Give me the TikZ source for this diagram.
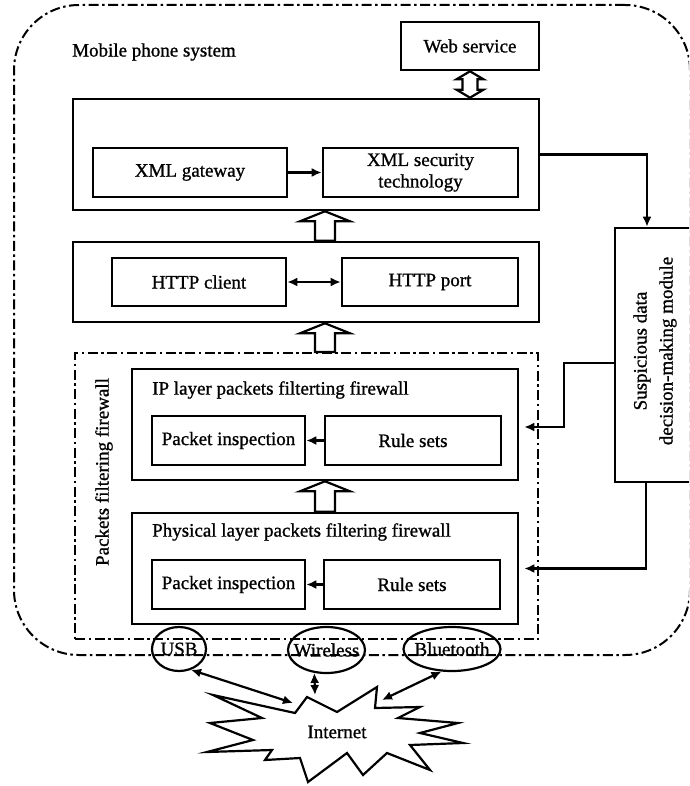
\documentclass[tikz,border=0pt]{standalone}
\usepackage{fontspec}
\setmainfont[FakeBold=1.0]{Liberation Serif}
\usetikzlibrary{arrows.meta,shapes.geometric,calc}
\newcommand\hollowup[2]{%
  \draw[hollow] let \p1=(#1), \p2=(#2) in
    (\x1-10pt,\y1) -- (\x1-10pt,\y2-10pt) -- (\x1-25pt,\y2-10pt) -- (\x1,\y2)
    -- (\x1+25pt,\y2-10pt) -- (\x1+10pt,\y2-10pt) -- (\x1+10pt,\y1) -- cycle;}
\newcommand\hollowboth[2]{%
  \draw[hollow] let \p1=(#1), \p2=(#2) in
    (\x1-7.5pt,\y1+8pt) -- (\x1-13.5pt,\y1+8pt) -- (\x1,\y1) -- (\x1+13.5pt,\y1+8pt)
    -- (\x1+7.5pt,\y1+8pt) -- (\x1+7.5pt,\y2-8pt) -- (\x1+13.5pt,\y2-8pt) -- (\x1,\y2)
    -- (\x1-13.5pt,\y2-8pt) -- (\x1-7.5pt,\y2-8pt) -- cycle;}
\begin{document}
\begin{tikzpicture}[x=1pt,y=-1pt,
  every node/.style={font=\fontsize{19}{23}\selectfont, inner sep=0pt},
  box/.style={draw, line width=2.6pt, rectangle},
  dd/.style={line width=2pt, dash pattern=on 10pt off 3.5pt on 2.5pt off 3.5pt},
  arr/.style={line width=2.2pt, -{Latex[length=10pt,width=9pt]}},
  darr/.style={line width=2.2pt, {Latex[length=10pt,width=9pt]}-{Latex[length=10pt,width=9pt]}},
  hollow/.style={draw, line width=2.2pt, fill=white, line join=miter},
  oval/.style={draw, ellipse, line width=2.2pt, minimum height=45pt}
]
\useasboundingbox (0,0) rectangle (689,786);
\clip (0,0) rectangle (689,786);

% outer mobile phone system
\node[draw, dd, rounded corners=65pt, minimum width=676pt, minimum height=650pt] (phone) at (352,330) {};
\node[anchor=west] (phonelabel) at (72,52) {Mobile phone system};

% web service
\node[box, minimum width=138pt, minimum height=48pt] (web) at (470,46) {Web service};

% XML layer
\node[box, minimum width=466pt, minimum height=111pt] (xml) at (306,154.5) {};
\node[box, minimum width=194pt, minimum height=49pt] (gw) at (190,172.5) {XML gateway};
\node[box, minimum width=195pt, minimum height=49pt, align=center,
      font=\fontsize{19}{21.5}\selectfont] (sec) at (420.5,172.5) {XML security\\technology};

% HTTP layer
\node[box, minimum width=466pt, minimum height=80pt] (http) at (306,282) {};
\node[box, minimum width=174pt, minimum height=48pt] (client) at (199,282) {HTTP client};
\node[box, minimum width=176pt, minimum height=48pt] (port) at (430,282) {\raisebox{2pt}{HTTP port}};

% firewall
\node[draw, dd, minimum width=463pt, minimum height=286pt] (fw) at (306.5,496) {};
\node[rotate=90] (fwlabel) at (104,472) {Packets filtering firewall};

\node[box, minimum width=386pt, minimum height=111pt] (ip) at (325,424.5) {};
\node[anchor=west] (iptitle) at (152,390) {IP layer packets filterting firewall};
\node[box, minimum width=153pt, minimum height=49pt] (ippi) at (228.5,440.5) {Packet inspection};
\node[box, minimum width=176pt, minimum height=49pt] (iprs) at (413,440.5) {Rule sets};

\node[box, minimum width=386pt, minimum height=111pt] (ph) at (325,568.5) {};
\node[anchor=west] (phtitle) at (152,532) {Physical layer packets filtering firewall};
\node[box, minimum width=153pt, minimum height=49pt] (phpi) at (228.5,584.5) {Packet inspection};
\node[box, minimum width=176pt, minimum height=49pt] (phrs) at (412,584.5) {Rule sets};

% suspicious data module
\node[box, minimum width=80pt, minimum height=254pt] (susp) at (655,355) {};
\node[rotate=90, align=center, font=\fontsize{19}{26}\selectfont] (susplabel) at (655,351)
  {Suspicious data\\decision-making module};

% interfaces
\node[oval, minimum width=54pt, minimum height=44pt] (usb) at (179,649) {};
\node (usblabel) at (usb) {USB};
\node[oval, minimum width=77pt, minimum height=46pt] (wl) at (326.5,650) {};
\node (wllabel) at (wl) {Wireless};
\node[oval, minimum width=97pt, minimum height=44pt] (bt) at (452,649) {};
\node (btlabel) at (bt) {Bluetooth};

% Internet star
\draw[line width=2.2pt, fill=white, line join=miter]
  (213,695) -- (295,713) -- (307,697) -- (337,712) -- (377,687) -- (375,708)
  -- (420,707) -- (398,718) -- (458,723) -- (420,733) -- (463,743) -- (410,745)
  -- (430,770) -- (387,753) -- (363,775) -- (347,753) -- (308,782) -- (300,758)
  -- (265,760) -- (272,750) -- (207,752) -- (253,740) -- (210,723) -- (262,718) -- cycle;
\node (inet) at (337,732) {Internet};
\coordinate (tipU) at (293,703);
\coordinate (tipW) at (315,695);
\coordinate (tipB) at (382,700);

% connectors
\draw[arr] (gw.east) -- (sec.west);
\draw[darr] (client.east) -- (port.west);
\draw[arr] (iprs.west) -- (ippi.east);
\draw[arr] (phrs.west) -- (phpi.east);
\draw[arr] (xml.east) -| ([xshift=-8pt]susp.north);
\draw[arr] ([yshift=-8pt]susp.west) -- ++(-50,0) |- ([xshift=5pt,yshift=-2.5pt]ip.east);
\draw[arr] ([xshift=-9pt]susp.south) |- ([xshift=5pt]ph.east);
\draw[darr] (usb.-60) -- (tipU);
\draw[darr] (wl.-118) -- (tipW);
\draw[darr] (bt.-115) -- (tipB);

% hollow block arrows
\hollowboth{xml.north -| web.south}{web.south}
\hollowup{http.north -| ip.north}{xml.south -| ip.north}
\hollowup{fw.north -| ip.north}{http.south -| ip.north}
\hollowup{ph.north}{ip.south}
\end{tikzpicture}
\end{document}
